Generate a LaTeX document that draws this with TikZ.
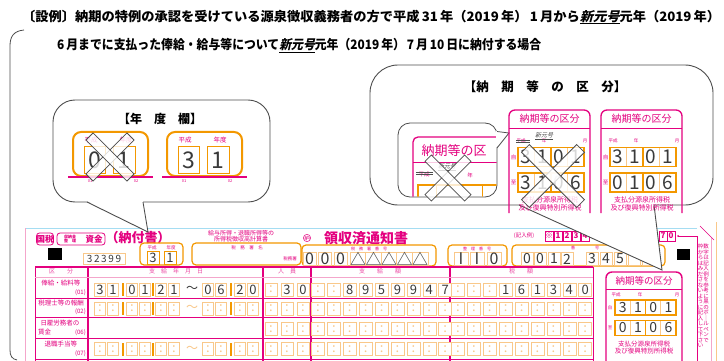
\documentclass[tikz,border=0pt]{standalone}
\usepackage{fontspec}
\setmainfont{Noto Sans CJK JP}
\newfontfamily\jp{Noto Sans CJK JP}
\newfontfamily\jpsl[FakeSlant=0.25]{Noto Sans CJK JP}
\newcommand\jfs[1]{\fontsize{#1}{#1}\selectfont}
\newcommand\newgen{\underline{\jpsl\bfseries 新元号}}
\definecolor{fpink}{HTML}{E4007F}
\definecolor{lpink}{HTML}{F4A6CB}
\definecolor{forange}{HTML}{F39800}
\definecolor{lorange}{HTML}{F9C88A}
\definecolor{cyanl}{HTML}{A5DDF2}
\definecolor{gtext}{HTML}{3A3A3A}
\definecolor{bline}{HTML}{4D4D4D}
\newcommand\ecol{\textcolor{lorange}{:}}
\newcommand\crossX[4]{%
  \foreach \ang in {45,-45}{%
    \draw[draw=bline, line width=0.8, fill=white, fill opacity=0.8, rotate around={\ang:(#1,#2)}] (#1-#3,#2-#4) rectangle (#1+#3,#2+#4);}}
\tikzset{
  bubble/.style={draw=bline, line width=0.9, fill=white},
  dcell/.style={draw=lorange, line width=0.6, fill=white, inner sep=0, text=gtext, font=\jp\jfs{13}},
  pk/.style={text=fpink, inner sep=0},
  gthick/.style={draw=fpink, line width=1.8},
  gthin/.style={draw=fpink, line width=0.9},
  obox/.style={draw=forange, line width=1.2, rounded corners=4},
  tiny/.style={text=fpink, inner sep=0, font=\jp\jfs{4.5}},
}
\begin{document}
\begin{tikzpicture}[x=1pt,y=-1pt]
\useasboundingbox (0,0) rectangle (724,361);
\fill[white] (0,0) rectangle (724,361);

% ---------- title ----------
\node[anchor=west, inner sep=0, text=black] (t1) at (22,17) {\resizebox{698pt}{\height}{\jp\bfseries\jfs{13}〔設例〕納期の特例の承認を受けている源泉徴収義務者の方で平成\,31\,年（2019\,年）\,1\,月から\newgen 元年（2019\,年）}};
\node[anchor=west, inner sep=0, text=black] (t2) at (57,46) {\resizebox{484pt}{\height}{\jp\bfseries\jfs{13}6\,月までに支払った俸給・給与等について\newgen 元年（2019\,年）\,7\,月\,10\,日に納付する場合}};

% bracket
\draw[bline, line width=0.8] (24,30) .. controls (14,31) and (10,36) .. (10,46) -- (10,350) .. controls (10,356) and (12,359) .. (17,360);

% ---------- form ----------
\draw[cyanl, line width=1] (25,228) -- (697,228);
\draw[lpink, line width=0.6] (25,228) -- (25,361);

\node[draw=fpink, rounded corners=3, line width=0.8, inner sep=1.2, pk, font=\jp\bfseries\jfs{8.5}, minimum height=12] (kokuzei) at (45,239) {国税};
\draw[fpink, line width=0.8, rounded corners=3] (57,233) rectangle (105,245);
\node[pk, align=center, font=\jp\bfseries\jfs{4}] (shuno) at (70,239) {収納金\\整　理};
\node[pk, font=\jp\bfseries\jfs{8.5}] (shikin) at (94,239) {資金};
\node[pk, font=\jp\bfseries\jfs{13}] (nofusho) at (138,238) {（納付書）};
\node[pk, align=center, font=\jp\jfs{6}] (keisan) at (241,236.5) {給与所得・退職所得等の\\所得税徴収高計算書};
\node[draw=fpink, circle, inner sep=0.6, pk, font=\jp\jfs{5.5}] (maru) at (307,238) {納};
\node[pk, anchor=west, font=\jp\bfseries\jfs{14}] (ryoshu) at (324,238) {領収済通知書};
\node[pk, font=\jp\jfs{5.5}] (kinyurei) at (524,236) {(記入例)};
\foreach \xx/\ch [count=\k] in {549/※,558/1,567/2,576/3,585/4,663/7,671/0}
  \node[draw=fpink, line width=0.6, pk, minimum width=8, minimum height=10, font=\jp\bfseries\jfs{8}] (ex\k) at (\xx,236) {\ch};
\coordinate (exend) at (697,236);
\fill[fpink] (678,236) circle (1);
\draw[fpink, line width=0.6] (678,236) -- (exend) -- (697,361);
\draw[fpink, line width=0.6] (700,226) -- (714,240);
\draw[lpink, line width=0.6] (711,238) -- (711,361);
\draw[lorange, line width=0.6] (716,222) -- (716,361);
\node[pk, font=\jp\jfs{5.5}, align=center, anchor=north] (vt1) at (706,244) {数\\字\\は\\記\\入\\例\\を\\参\\考\\に\\黒\\の\\ボ\\｜\\ル\\ペ\\ン\\で};
\node[pk, font=\jp\jfs{5.5}, align=center, anchor=north] (vt2) at (700.5,244) {枠\\か\\ら\\は\\み\\だ\\さ\\な\\い\\よ\\う\\に\\記\\入\\し\\て\\下\\さ\\い};

\fill[black] (48,248) rectangle (62,260);
\fill[black] (677,249) rectangle (690,260);

\node[draw=lorange, line width=0.5, minimum width=42, minimum height=11, inner sep=0, text=gtext, font=\jp\jfs{10}] (code) at (104,258.5) {3\,2\,3\,9\,9};

% year box
\draw[obox] (140,243) rectangle (183,265);
\node[tiny] (fy1) at (152,247.5) {平成};
\node[tiny] (fy2) at (171,247.5) {年度};
\node[dcell, draw=forange, minimum width=12, minimum height=13] (fyc1) at (153,258) {3};
\node[dcell, draw=forange, minimum width=12, minimum height=13] (fyc2) at (170,258) {1};

% tax office name
\draw[obox] (192,243) rectangle (301,265);
\node[tiny] (tom1) at (247,247.5) {税　務　署　名};
\node[tiny] (tom2) at (290,259) {税務署};

% tax office number
\draw[obox] (302,245) rectangle (436,266);
\node[tiny, font=\jp\jfs{4}] (ton1) at (369,248.5) {税　務　署　番　号};
\foreach \xx/\ch [count=\k] in {309.5/0,325/0,340.5/0,358/△,373.5/△,389/△,404.5/△,420/△}
  \node[dcell, draw=lorange, minimum width=13, minimum height=13, font=\jp\jfs{16}] (ton-\k) at (\xx,259) {\ch};

\draw[obox] (448,245) rectangle (507,266);
\node[tiny, font=\jp\jfs{4}] (sei1) at (477,248.5) {整　理　番　号};
\foreach \xx/\ch [count=\k] in {461/I,477/I,494/0}
  \node[dcell, minimum width=14, minimum height=13, font=\jp\jfs{16}] (sei-\k) at (\xx,259) {\ch};

\draw[obox] (512,245) rectangle (665,266);
\node[tiny, font=\jp\jfs{4}] (ban1) at (585,248.5) {番　　　　　号};
\foreach \xx/\ch [count=\k] in {527/0,540/0,554/1,567/2,592/3,606/4,620/5,634/{},648/{}}
  \node[dcell, minimum width=12, minimum height=13, font=\jp\jfs{14}] (ban-\k) at (\xx,259) {\ch};

% grid
\draw[fpink, line width=1.2] (35,267) -- (593,267);
\draw[gthin] (35,267) -- (35,361);
\draw[gthin] (593,267) -- (593,361);
\foreach \xx in {88,263,311,450} \draw[gthick] (\xx,267) -- (\xx,361);
\draw[lpink, line width=0.5] (35,277.5) -- (593,277.5);
\foreach \yy in {298,317.5,338.5,359} \draw[gthin] (35,\yy) -- (593,\yy);

\node[pk, text=fpink!70, font=\jp\jfs{6}] (h1) at (61,271.5) {区　　分};
\node[pk, text=fpink!70, font=\jp\jfs{6}] (h2) at (176,271.5) {支　給　年　月　日};
\node[pk, text=fpink!70, font=\jp\jfs{6}] (h3) at (287,271.5) {人　員};
\node[pk, text=fpink!70, font=\jp\jfs{6}] (h4) at (380,271.5) {支　　給　　額};
\node[pk, text=fpink!70, font=\jp\jfs{6}] (h5) at (521,271.5) {税　　額};

\node[pk, font=\jp\jfs{6.5}] (rl1) at (61,283) {俸給・給料等};
\node[pk, font=\jp\jfs{6}, anchor=east] (rn1) at (86,292.5) {(01)};
\node[pk, font=\jp\jfs{6.5}] (rl2) at (61,303) {税理士等の報酬};
\node[pk, font=\jp\jfs{6}, anchor=east] (rn2) at (86,312) {(02)};
\node[pk, font=\jp\jfs{6.5}] (rl3) at (60,323) {日雇労務者の};
\node[pk, font=\jp\jfs{6.5}, anchor=west] (rl3b) at (38,332.5) {賃金};
\node[pk, font=\jp\jfs{6}, anchor=east] (rn3) at (86,332.5) {(06)};
\node[pk, font=\jp\jfs{6.5}] (rl4) at (61,344) {退職手当等};
\node[pk, font=\jp\jfs{6}, anchor=east] (rn4) at (86,353.5) {(07)};

% row 1
\foreach \xx/\ch [count=\k] in {100/3,113/1,132/0,145/1,161/2,174/1,208/0,221/6,240/2,253/0}
  \node[dcell, minimum width=11.5, minimum height=13] (dt1-\k) at (\xx,289.5) {\ch};
\node[text=gtext, font=\jp\jfs{12}, inner sep=0] (tl1) at (192,289.5) {～};
% rows 2,4 dates
\foreach \r/\yy in {2/308.5,4/349}{
  \foreach \xx [count=\k] in {100,113,132,145,161,174,208,221,240,253}
    \node[dcell, minimum width=11.5, minimum height=13] (dt\r-\k) at (\xx,\yy) {\ecol};
  \node[text=lorange, font=\jp\jfs{12}, inner sep=0] (tl\r) at (192,\yy) {～};
}
\foreach \r/\yy in {1/289.5,2/308.5,4/349}
  \foreach \xb in {122.5,153,231} \fill[forange] (\xb-1,\yy-6.5) rectangle (\xb+1,\yy+6.5);
% persons
\foreach \xx/\ch [count=\k] in {271/\ecol,287/3,303/0}
  \node[dcell, minimum width=12, minimum height=13] (pp1-\k) at (\xx,289.5) {\ch};
\foreach \r/\yy in {2/308.5,3/329,4/349}
  \foreach \xx [count=\k] in {271,287,303}
    \node[dcell, minimum width=12, minimum height=13] (pp\r-\k) at (\xx,\yy) {\ecol};
% amounts
\foreach \ch [count=\k] in {\ecol,\ecol,8,9,5,9,9,4,7}
  \node[dcell, minimum width=13, minimum height=13] (am1-\k) at (302.1+15.9*\k,289.5) {\ch};
\foreach \ch [count=\k] in {\ecol,\ecol,\ecol,1,6,1,3,4,0}
  \node[dcell, minimum width=13, minimum height=13] (tx1-\k) at (442.1+15.9*\k,289.5) {\ch};
\foreach \r/\yy in {2/308.5,3/329,4/349}{
  \foreach \k in {1,...,9}{
    \node[dcell, minimum width=13, minimum height=13] (am\r-\k) at (302.1+15.9*\k,\yy) {\ecol};
    \node[dcell, minimum width=13, minimum height=13] (tx\r-\k) at (442.1+15.9*\k,\yy) {\ecol};
  }
}

% form kubun box
\draw[fpink, line width=1.4, rounded corners=6] (606,361) -- (606,272) -- (682,272) -- (682,361);
\node[pk, font=\jp\jfs{9.5}] (fk1) at (644,281) {納期等の区分};
\draw[fpink, line width=0.7] (606,289.5) -- (682,289.5);
\node[tiny] (fk2) at (616,295) {平成};
\node[tiny] (fk3) at (640,295) {年};
\node[tiny] (fk4) at (677,295) {月};
\node[tiny] (fk5) at (610,307.5) {自};
\node[tiny] (fk6) at (610,328) {至};
\foreach \ch [count=\k] in {3,1,0,1}
  \node[dcell, minimum width=15.25, minimum height=15, font=\jp\jfs{14}] (fka-\k) at (607.4+15.25*\k,307.5) {\ch};
\foreach \ch [count=\k] in {0,1,0,6}
  \node[dcell, minimum width=15.25, minimum height=15, font=\jp\jfs{14}] (fkb-\k) at (607.4+15.25*\k,328) {\ch};
\foreach \yy in {307.5,328}
  \draw[forange, line width=1.4] (615,\yy-7.5) rectangle (645.5,\yy+7.5) (645.5,\yy-7.5) rectangle (676,\yy+7.5);
\node[pk, font=\jp\jfs{6.5}] (fk7) at (644,344) {支払分源泉所得税};
\node[pk, font=\jp\jfs{6.5}] (fk8) at (644,351.5) {及び復興特別所得税};

% ---------- left bubble ----------
\draw[bubble, rounded corners=22] (53,100) rectangle (270,202);
\fill[white] (87,201) -- (148,232) -- (143,201) -- cycle;
\draw[bline, line width=0.9] (87,202) -- (148,232) -- (143,202);
\node[font=\jp\bfseries\jfs{12}, inner sep=0] (nendo) at (160,119) {【年　度　欄】};
\foreach \bx/\da/\db/\nm in {73/0/1/L, 167/3/1/R}{
  \draw[forange, line width=2, rounded corners=8] (\bx,132) rectangle (\bx+75,176);
  \node[pk, font=\jp\jfs{6.5}] (yh\nm) at (\bx+18,140) {平成};
  \node[pk, font=\jp\jfs{6.5}] (yn\nm) at (\bx+53,140) {年度};
  \node[dcell, draw=forange, line width=1, minimum width=21, minimum height=27, font=\jp\jfs{23}] (yc1\nm) at (\bx+22,160) {\da};
  \node[dcell, draw=forange, line width=1, minimum width=22, minimum height=27, font=\jp\jfs{23}] (yc2\nm) at (\bx+51,160) {\db};
  \draw[fpink, line width=2.2] (\bx-5,177) -- (\bx+80,177);
  \node[pk, font=\jp\jfs{4}] (ya\nm) at (\bx+17,181) {01};
  \node[pk, font=\jp\jfs{4}] (yb\nm) at (\bx+63,181) {02};
}
\crossX{110}{157}{29}{5}

% ---------- right bubble ----------
\draw[bubble, rounded corners=28] (370,65) rectangle (713,205);
\fill[white] (519,204) -- (662,270) -- (654,204) -- cycle;
\draw[bline, line width=0.9] (519,205) -- (662,270) -- (654,205);
\node[font=\jp\bfseries\jfs{12.5}, inner sep=0] (nouki) at (545,87) {【納　期　等　の　区　分】};

% small bubble
\draw[bubble, line width=0.8, rounded corners=12] (398,123) rectangle (497,197);
\begin{scope}
  \clip[rounded corners=12] (398.5,123.5) rectangle (496.5,196.5);
  \draw[fpink, line width=1.3, rounded corners=5] (413,205) -- (413,137) -- (505,137);
  \node[pk, font=\jp\jfs{13}] (sb1) at (454,151) {納期等の区};
  \draw[fpink, line width=0.7] (413,162) -- (505,162);
  \node[pk, font=\jp\jfs{5.5}] (sb2) at (424,174) {平成};
  \draw[bline, line width=0.5] (416,172.5) -- (433,172.5) (416,174.5) -- (433,174.5);
  \node[text=bline, inner sep=0, font=\jpsl\jfs{6}] (sb3) at (447,167) {\underline{新元号}};
  \node[pk, font=\jp\jfs{5.5}] (sb4) at (470,175) {年};
  \draw[forange, line width=1.5] (418,205) -- (418,185) -- (505,185);
  \draw[forange, line width=0.8] (436,185) -- (436,200) (482,185) -- (482,200);
\end{scope}
\fill[white] (496,131) -- (509,133) -- (496,148) -- cycle;
\draw[bline, line width=0.8] (497,131.5) -- (509,133) -- (497,148);
\crossX{448}{178}{28}{4.5}

% kubun boxes A and B
\foreach \bx/\nm/\pa/\pb/\pc/\pd/\qa/\qb/\qc/\qd in {509/A/3/1/0/1/3/1/0/6, 601/B/3/1/0/1/0/1/0/6}{
  \draw[fpink, line width=1.3, rounded corners=6] (\bx,213) -- (\bx,110) -- (\bx+81,110) -- (\bx+81,213);
  \draw[fpink, line width=0.7] (\bx,128) -- (\bx+81,128);
  \node[pk, font=\jp\jfs{10}] (ttl\nm) at (\bx+40.5,119) {納期等の区分};
  \node[tiny] (lh\nm) at (\bx+12,141) {平成};
  \node[tiny] (ly\nm) at (\bx+35,141) {年};
  \node[tiny] (lm\nm) at (\bx+76,141) {月};
  \node[pk, font=\jp\jfs{5.5}] (lf\nm) at (\bx+4.5,157) {自};
  \node[pk, font=\jp\jfs{5.5}] (lt\nm) at (\bx+4.5,182.5) {至};
  \foreach \i/\ch in {0/\pa,1/\pb,2/\pc,3/\pd}
    \node[dcell, minimum width=16.5, minimum height=19, font=\jp\jfs{19}] (\nm-f\i) at (\bx+17.25+16.5*\i,157) {\ch};
  \foreach \i/\ch in {0/\qa,1/\qb,2/\qc,3/\qd}
    \node[dcell, minimum width=16.5, minimum height=19, font=\jp\jfs{19}] (\nm-t\i) at (\bx+17.25+16.5*\i,182.5) {\ch};
  \foreach \yy in {157,182.5}
    \draw[forange, line width=1.6] (\bx+9,\yy-9.5) rectangle (\bx+42,\yy+9.5) (\bx+42,\yy-9.5) rectangle (\bx+75,\yy+9.5);
  \node[pk, font=\jp\jfs{7}] (sa\nm) at (\bx+41,200) {支払分源泉所得税};
  \node[pk, font=\jp\jfs{7}] (sc\nm) at (\bx+41,208) {及び復興特別所得税};
}
\draw[bline, line width=0.5] (516,140.3) -- (530,140.3) (516,142) -- (530,142);
\node[text=bline, inner sep=0, font=\jpsl\jfs{6}] (ngA) at (544,136) {\underline{新元号}};
\crossX{553}{176}{39}{5.5}
\end{tikzpicture}
\end{document}
